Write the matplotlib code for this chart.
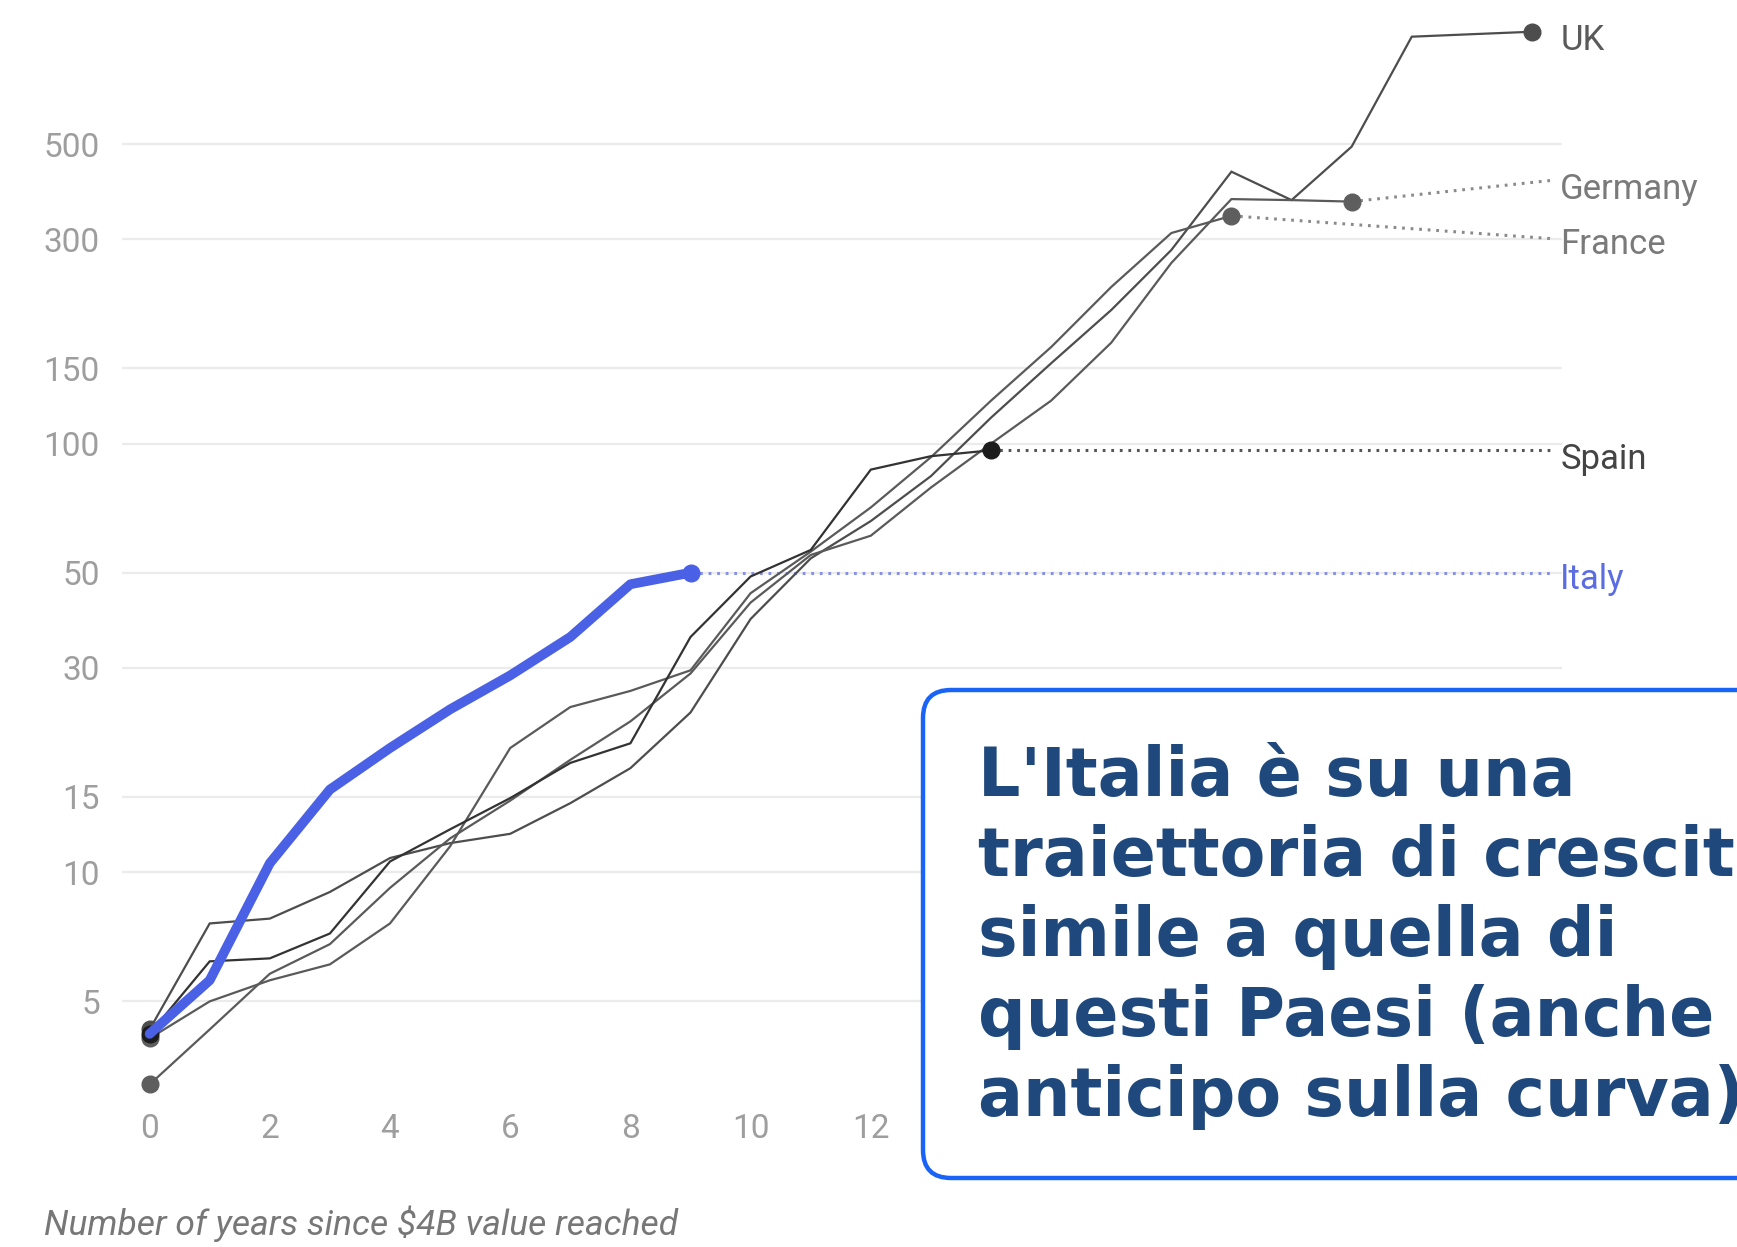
import matplotlib
matplotlib.use("Agg")
import matplotlib.pyplot as plt
from matplotlib.patches import FancyBboxPatch
from matplotlib.transforms import IdentityTransform

# ---------------- data ----------------
uk_years = list(range(0, 24))
uk_vals = [4.3, 7.6, 7.8, 9.0, 10.8, 11.7, 12.3, 14.5, 17.5, 23.6, 39, 54, 66, 84,
           115, 154, 205, 283, 431, 370, 493, 890, 902, 914]

germany_years = list(range(0, 21))
germany_vals = [3.2, 4.3, 5.8, 6.8, 9.2, 12.0, 14.7, 18.3, 22.5, 29.1, 42.6, 55, 61,
                79, 100, 126, 172, 264, 372, 370, 367]

france_years = list(range(0, 19))
france_vals = [4.1, 5.0, 5.6, 6.1, 7.6, 11.5, 19.5, 24.3, 26.5, 29.6, 44.8, 56, 71,
               93, 126, 168, 232, 310, 340]

spain_years = list(range(0, 15))
spain_vals = [4.2, 6.2, 6.3, 7.2, 10.6, 12.6, 14.9, 18.0, 20.0, 35.4, 49, 56.5, 87,
              93.5, 96.5]

italy_years = list(range(0, 10))
italy_vals = [4.2, 5.6, 10.5, 15.6, 19.5, 24, 28.8, 35.4, 47, 50]

country_names = ["UK", "Germany", "France", "Spain", "Italy"]
label_vals = [870, 392, 291, 92, 48.3]          # where each label sits
leader_end_vals = [None, 411, 301, 96.5, 50]     # leader line end heights

y_ticks = [5, 10, 15, 30, 50, 100, 150, 300, 500]
x_ticks = list(range(0, 13, 2))

annotation_lines = ["L'Italia è su una",
                    "traiettoria di crescita",
                    "simile a quella di",
                    "questi Paesi (anche",
                    "anticipo sulla curva)"]

# ---------------- figure ----------------
W, H, DPI = 1737, 1247, 100
fig = plt.figure(figsize=(W / DPI, H / DPI), dpi=DPI)
fig.patch.set_facecolor("white")

ax = fig.add_axes([122 / W, 1 - 1103 / H, (1562 - 122) / W, (1103 - 15) / H])
ax.set_yscale("log")
ax.set_xlim(-0.459, 23.5)
ax.set_ylim(2.897, 1000)

FONT = "Roboto"
tick_color = "#9e9e9e"

ax.set_yticks(y_ticks)
ax.set_yticklabels([str(v) for v in y_ticks])
ax.yaxis.set_minor_locator(matplotlib.ticker.NullLocator())
ax.set_xticks(x_ticks)
ax.set_xticklabels([str(v) for v in x_ticks])
ax.tick_params(axis="both", length=0, labelsize=24, labelcolor=tick_color)
ax.tick_params(axis="y", pad=16)
ax.tick_params(axis="x", pad=7)
for lab in ax.get_xticklabels() + ax.get_yticklabels():
    lab.set_fontfamily(FONT)
for s in ax.spines.values():
    s.set_visible(False)
ax.grid(axis="y", which="major", color="#ebebeb", linewidth=1.6)
ax.grid(axis="x", visible=False)
ax.set_axisbelow(True)

gray_line = "#5a5a5a"
series = [
    (uk_years, uk_vals, "#4d4d4d", "#4d4d4d"),
    (germany_years, germany_vals, gray_line, "#5e5e5e"),
    (france_years, france_vals, gray_line, "#5e5e5e"),
    (spain_years, spain_vals, "#333333", "#1c1c1c"),
]
for xs, ys, lc, dc in series:
    ax.plot(xs, ys, color=lc, linewidth=1.6, solid_joinstyle="miter", zorder=3)
    ax.plot([xs[0], xs[-1]], [ys[0], ys[-1]], linestyle="none", marker="o",
            markersize=12, color=dc, zorder=4)

italy_color = "#4a61e6"
ax.plot(italy_years, italy_vals, color=italy_color, linewidth=7,
        solid_joinstyle="round", solid_capstyle="round", zorder=5)
ax.plot([italy_years[-1]], [italy_vals[-1]], marker="o", markersize=12,
        color=italy_color, linestyle="none", zorder=6)

# leader lines (dotted) to the labels
leader_x = 23.3
dot_style = (0, (0.9, 1.9))
leaders = [
    (germany_years[-1], germany_vals[-1], leader_end_vals[1], "#8a8a8a"),
    (france_years[-1], france_vals[-1], leader_end_vals[2], "#8a8a8a"),
    (spain_years[-1], spain_vals[-1], leader_end_vals[3], "#555555"),
    (italy_years[-1], italy_vals[-1], leader_end_vals[4], "#8590e6"),
]
for x0, y0, y1, c in leaders:
    ax.plot([x0, leader_x], [y0, y1], color=c, linewidth=2.2,
            linestyle=dot_style, zorder=2, clip_on=False)

label_colors = ["#5a5a5a", "#7a7a7a", "#7a7a7a", "#444444", "#5b6de0"]
for name, yv, c in zip(country_names, label_vals, label_colors):
    ax.text(23.47, yv, name, fontsize=25, color=c, family=FONT,
            va="center", ha="left", clip_on=False)

fig.text(44 / W, 1 - 1224 / H, "Number of years since \\$4B value reached",
         fontsize=25.5, style="italic", color="#777777", family=FONT,
         ha="left", va="center")

# annotation box (pixel coordinates)
box = FancyBboxPatch((923, H - 1178), 880, 1178 - 690,
                     boxstyle="round,pad=0,rounding_size=28",
                     transform=IdentityTransform(), facecolor="white",
                     edgecolor="#1a63f7", linewidth=3.2, zorder=20)
fig.add_artist(box)
baselines = [796, 876, 956, 1036, 1116]
for line, b in zip(annotation_lines, baselines):
    fig.text(978 / W, 1 - b / H, line, fontsize=48, fontweight="bold",
             color="#1f497d", family="DejaVu Sans", ha="left", va="baseline",
             zorder=21)

fig.savefig("out.png", dpi=DPI)
